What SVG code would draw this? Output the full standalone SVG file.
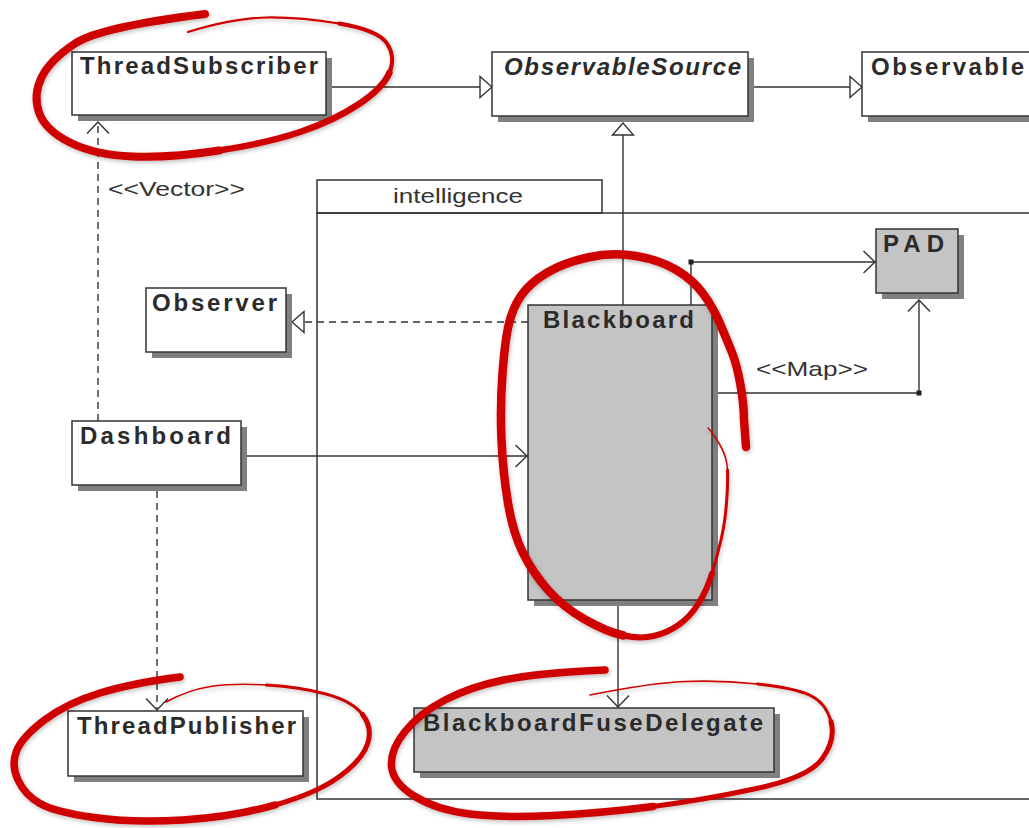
<svg xmlns="http://www.w3.org/2000/svg" width="1029" height="828" viewBox="0 0 1029 828">
  <style>
    .box { stroke: #333; stroke-width: 1.5; }
    .plain { fill: #ffffff; }
    .grey { fill: #c4c4c4; }
    .shadow { fill: #808080; stroke: none; }
    .name { font-family: "Liberation Sans", Arial, Helvetica, sans-serif; font-weight: bold; font-size: 24px; fill: #2b2b2b; }
    .ital { font-style: italic; }
    .label { font-family: "Liberation Sans", Arial, Helvetica, sans-serif; font-size: 21px; fill: #333; }
    .line { fill: none; stroke: #333; stroke-width: 1.4; }
    .dash { stroke-dasharray: 7 5; }
    .pkg { fill: none; stroke: #333; stroke-width: 1.5; }
    .ink { fill: none; stroke: #cf0000; stroke-linecap: round; stroke-linejoin: round; }
  </style>
  <defs>
    <marker id="tri" markerUnits="userSpaceOnUse" viewBox="0 0 14 24" markerWidth="14" markerHeight="24" refX="13" refY="12" orient="auto">
      <path d="M1,1.5 L13,12 L1,22.5 Z" fill="#fff" stroke="#333" stroke-width="1.4"/>
    </marker>
    <marker id="open" markerUnits="userSpaceOnUse" viewBox="0 0 14 24" markerWidth="14" markerHeight="24" refX="12.5" refY="12" orient="auto">
      <path d="M1,1 L12.5,12 L1,23" fill="none" stroke="#333" stroke-width="1.4"/>
    </marker>
    <filter id="soft" x="-10%" y="-10%" width="120%" height="120%">
      <feDropShadow dx="1" dy="2" stdDeviation="2" flood-color="#000" flood-opacity="0.25"/>
    </filter>
  </defs>

  <rect width="1029" height="828" fill="#fff"/>

  <!-- package: intelligence -->
  <g id="intelligence">
    <rect class="pkg" x="317" y="180" width="285" height="33"/>
    <rect class="pkg" x="317" y="213" width="740" height="586"/>
    <text class="label" x="393" y="203" textLength="130" lengthAdjust="spacingAndGlyphs">intelligence</text>
  </g>

  <!-- connectors -->
  <g id="connectors">
    <path class="line" d="M332,87 H492" marker-end="url(#tri)"/>
    <path class="line" d="M754,87 H862" marker-end="url(#tri)"/>
    <path class="line" d="M623,305 V123" marker-end="url(#tri)"/>
    <path class="line dash" d="M528,322 H292" marker-end="url(#tri)"/>
    <path class="line" d="M247,456 H527" marker-end="url(#open)"/>
    <path class="line dash" d="M98,421 V122" marker-end="url(#open)"/>
    <path class="line dash" d="M157,491 V710" marker-end="url(#open)"/>
    <path class="line" d="M691,305 V262 H875" marker-end="url(#open)"/>
    <rect x="688.5" y="259.5" width="5" height="5" fill="#222"/>
    <path class="line" d="M718,393 H919 V300" marker-end="url(#open)"/>
    <rect x="916.5" y="390.5" width="5" height="5" fill="#222"/>
    <path class="line" d="M618,606 V707" marker-end="url(#open)"/>
    <text class="label" x="108" y="196" textLength="137" lengthAdjust="spacingAndGlyphs">&lt;&lt;Vector&gt;&gt;</text>
    <text class="label" x="756" y="376" textLength="112" lengthAdjust="spacingAndGlyphs">&lt;&lt;Map&gt;&gt;</text>
  </g>

  <!-- classes -->
  <g id="ThreadSubscriber">
    <rect class="shadow" x="78" y="58" width="254" height="63"/>
    <rect class="box plain" x="72" y="52" width="254" height="63"/>
    <text class="name" x="80" y="74" textLength="238" lengthAdjust="spacing">ThreadSubscriber</text>
  </g>
  <g id="ObservableSource">
    <rect class="shadow" x="498" y="58" width="256" height="64"/>
    <rect class="box plain" x="492" y="52" width="256" height="64"/>
    <text class="name ital" x="504" y="75" textLength="237" lengthAdjust="spacing">ObservableSource</text>
  </g>
  <g id="Observable">
    <rect class="shadow" x="868" y="58" width="200" height="64"/>
    <rect class="box plain" x="862" y="52" width="200" height="64"/>
    <text class="name" x="871" y="75" textLength="153" lengthAdjust="spacing">Observable</text>
  </g>
  <g id="Observer">
    <rect class="shadow" x="152" y="294" width="140" height="64"/>
    <rect class="box plain" x="146" y="288" width="140" height="64"/>
    <text class="name" x="152" y="311" textLength="125" lengthAdjust="spacing">Observer</text>
  </g>
  <g id="Dashboard">
    <rect class="shadow" x="78" y="427" width="169" height="64"/>
    <rect class="box plain" x="72" y="421" width="169" height="64"/>
    <text class="name" x="80" y="444" textLength="151" lengthAdjust="spacing">Dashboard</text>
  </g>
  <g id="Blackboard">
    <rect class="shadow" x="534" y="311" width="184" height="295"/>
    <rect class="box grey" x="528" y="305" width="184" height="295"/>
    <text class="name" x="543" y="328" textLength="151" lengthAdjust="spacing">Blackboard</text>
  </g>
  <g id="PAD">
    <rect class="shadow" x="882" y="235" width="82" height="64"/>
    <rect class="box grey" x="876" y="229" width="82" height="64"/>
    <text class="name" x="883" y="252" textLength="61" lengthAdjust="spacing">PAD</text>
  </g>
  <g id="ThreadPublisher">
    <rect class="shadow" x="74" y="717" width="235" height="65"/>
    <rect class="box plain" x="68" y="711" width="235" height="65"/>
    <text class="name" x="77" y="734" textLength="219" lengthAdjust="spacing">ThreadPublisher</text>
  </g>
  <g id="BlackboardFuseDelegate">
    <rect class="shadow" x="420" y="714" width="360" height="64"/>
    <rect class="box grey" x="414" y="708" width="360" height="64"/>
    <text class="name" x="423" y="731" textLength="340" lengthAdjust="spacing">BlackboardFuseDelegate</text>
  </g>

  <!-- red pen marks -->
  <g id="pen-marks" filter="url(#soft)">
    <!-- around ThreadSubscriber -->
    <path class="ink" stroke-width="8" d="M205,14 Q100,27 75,43.5 Q50,60 41.5,77.5 Q33,95 39,112.5 Q45,130 70,142.5 Q95,155 132.5,156.5 Q170,158 219,150.5"/>
    <path class="ink" stroke-width="6.5" d="M219,150.5 Q268,143 301.5,131.5 Q335,120 359,104 Q383,88 389.5,72.5"/>
    <path class="ink" stroke-width="4" d="M389.5,72.5 Q396,57 387,43.5 Q378,30 339,23.5"/>
    <path class="ink" stroke-width="2.2" d="M339,23.5 Q300,17 266.5,17.5 Q233,18 188,32"/>

    <!-- around Blackboard -->
    <path class="ink" stroke-width="8.5" d="M746,447 L744,420 Q744,405 740.5,385 Q737,365 732,352.5 Q727,340 720,323.5 Q713,307 703,293.5 Q693,280 676.5,270 Q660,260 636,256 Q612,252 587.5,257.5 Q563,263 546.5,273 Q530,283 521.5,295 Q513,307 509,323.5 Q505,340 502.5,373.5 Q500,407 501.5,440 Q503,473 508,503 Q513,533 523,553 Q533,573 548,590 Q563,607 585,619.5 Q607,632 623.5,635.5"/>
    <path class="ink" stroke-width="6" d="M623.5,635.5 Q640,639 653.5,636 Q667,633 678.5,625 Q690,617 698.5,603.5 Q707,590 712,573.5"/>
    <path class="ink" stroke-width="3" d="M712,573.5 Q717,557 721,540 Q725,523 726.5,503 Q728,483 727.5,470"/>
    <path class="ink" stroke-width="1.5" d="M727.5,470 Q727,457 720,445 Q713,433 708,428"/>

    <!-- around ThreadPublisher -->
    <path class="ink" stroke-width="7.5" d="M180,677 Q133,683 100,693 Q67,703 44.5,720 Q22,737 16.5,751 Q11,765 18,780 Q25,795 40,803.5 Q55,812 94,817.5 Q133,823 183,820 Q233,817 275,805"/>
    <path class="ink" stroke-width="5" d="M275,805 Q317,793 339.5,776.5 Q362,760 367.5,744 Q373,728 362.5,714.5"/>
    <path class="ink" stroke-width="3" d="M362.5,714.5 Q352,701 326,694 Q300,687 266.5,685"/>
    <path class="ink" stroke-width="1.6" d="M266.5,685 Q233,683 210.5,686.5 Q188,690 166,702"/>

    <!-- around BlackboardFuseDelegate -->
    <path class="ink" stroke-width="7.5" d="M605,670 Q537,673 503.5,680 Q470,687 445,700 Q420,713 405,731.5 Q390,750 391.5,766.5 Q393,783 415,796.5 Q437,810 470,814 Q503,818 553,815.5 Q603,813 653,806.5"/>
    <path class="ink" stroke-width="5" d="M653,806.5 Q703,800 754,789 Q808,778 822,759 Q836,740 831,721.5"/>
    <path class="ink" stroke-width="3" d="M831,721.5 Q826,703 810.5,695.5 Q795,688 757.5,684"/>
    <path class="ink" stroke-width="1.6" d="M757.5,684 Q720,680 685,681.5 Q650,683 590,695"/>
  </g>
</svg>
